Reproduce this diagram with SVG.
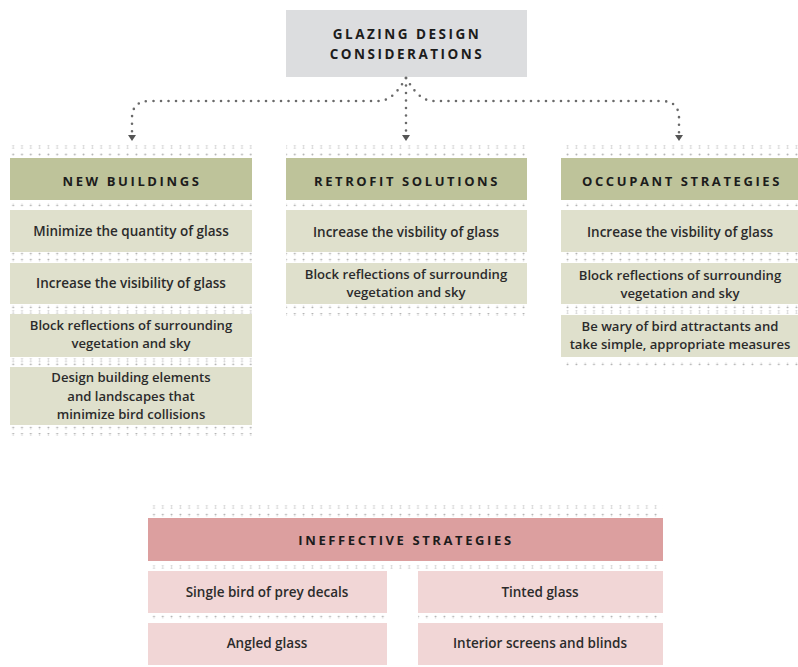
<svg xmlns="http://www.w3.org/2000/svg" width="798" height="667" viewBox="0 0 798 667">
<defs>
<pattern id="dots" patternUnits="userSpaceOnUse" width="8.8" height="3">
<circle cx="4.4" cy="1.5" r="0.95" fill="#b0b0b0"/>
</pattern>
<style>
.t{font-family:"Open Sans","Noto Sans","Liberation Sans",sans-serif;text-anchor:middle;fill:#2b2b2b;}
.h{font-size:13px;font-weight:700;letter-spacing:2.6px;fill:#1c1c1c;}
.h2{font-size:13.5px;letter-spacing:2.5px;}
.i{font-size:13.5px;font-weight:600;}
.m{font-size:13.1px;}
.top{fill:#dcdddf;}
.gh{fill:#bec39a;}
.gi{fill:#dfe0cc;}
.ph{fill:#dc9f9f;}
.pi{fill:#f1d6d6;}
.d{fill:url(#dots);}
.con{fill:none;stroke:#6a6a6a;stroke-width:2.6;stroke-linecap:round;stroke-dasharray:0 7.5;}
.arr{fill:#555;}
</style>
</defs>
<rect width="798" height="667" fill="#ffffff"/>

<g id="root">
<rect class="top" x="286" y="10" width="241" height="67"/>
<text class="t h h2" x="407" y="39">GLAZING DESIGN</text>
<text class="t h h2" x="407" y="59">CONSIDERATIONS</text>
</g>

<g id="connectors">
<path class="con" d="M406,78 C401,86 393,100 380,101 L150,101 Q132,101 132,118 L132,133"/>
<path class="con" d="M406,78 L406,133"/>
<path class="con" d="M406,78 C411,86 419,100 432,101 L661,101 Q679,101 679,118 L679,133"/>
<polygon class="arr" points="128,135 136,135 132,141"/>
<polygon class="arr" points="402,135 410,135 406,141"/>
<polygon class="arr" points="675,135 683,135 679,141"/>
</g>

<g id="new-buildings">
<rect class="d" x="10" y="145.5" width="242" height="3"/>
<rect class="d" x="10" y="153" width="242" height="3"/>
<rect class="gh" x="10" y="158" width="242" height="42"/>
<text class="t h" x="132" y="185.5">NEW BUILDINGS</text>
<rect class="d" x="10" y="203.5" width="242" height="3"/>
<g id="nb1"><rect class="gi" x="10" y="210" width="242" height="42"/>
<text class="t i" x="131" y="236">Minimize the quantity of glass</text></g>
<rect class="d" x="10" y="252.5" width="242" height="3"/>
<rect class="d" x="10" y="258.5" width="242" height="3"/>
<g id="nb2"><rect class="gi" x="10" y="263" width="242" height="41"/>
<text class="t i" x="131" y="288">Increase the visibility of glass</text></g>
<rect class="d" x="10" y="305.5" width="242" height="3"/>
<rect class="d" x="10" y="310.5" width="242" height="3"/>
<g id="nb3"><rect class="gi" x="10" y="314" width="242" height="43"/>
<text class="t i m" x="131" y="330">Block reflections of surrounding</text>
<text class="t i m" x="131" y="348.2">vegetation and sky</text></g>
<rect class="d" x="10" y="358.5" width="242" height="3"/>
<rect class="d" x="10" y="362.5" width="242" height="3"/>
<g id="nb4"><rect class="gi" x="10" y="367" width="242" height="58"/>
<text class="t i m" x="131" y="382.4">Design building elements</text>
<text class="t i m" x="131" y="400.6">and landscapes that</text>
<text class="t i m" x="131" y="418.8">minimize bird collisions</text></g>
<rect class="d" x="10" y="426.5" width="242" height="3"/>
<rect class="d" x="10" y="433" width="242" height="3"/>
</g>

<g id="retrofit">
<rect class="d" x="286" y="145.5" width="241" height="3"/>
<rect class="d" x="286" y="153" width="241" height="3"/>
<rect class="gh" x="286" y="158" width="241" height="42"/>
<text class="t h" x="407" y="185.5">RETROFIT SOLUTIONS</text>
<rect class="d" x="286" y="203.5" width="241" height="3"/>
<g id="rs1"><rect class="gi" x="286" y="210" width="241" height="42"/>
<text class="t i" x="406" y="236.5">Increase the visbility of glass</text></g>
<rect class="d" x="286" y="252.5" width="241" height="3"/>
<rect class="d" x="286" y="258.5" width="241" height="3"/>
<g id="rs2"><rect class="gi" x="286" y="263" width="241" height="41"/>
<text class="t i m" x="406" y="279">Block reflections of surrounding</text>
<text class="t i m" x="406" y="297.2">vegetation and sky</text></g>
<rect class="d" x="286" y="305.5" width="241" height="3"/>
<rect class="d" x="286" y="313" width="241" height="3"/>
</g>

<g id="occupant">
<rect class="d" x="561" y="145.5" width="237" height="3"/>
<rect class="d" x="561" y="153" width="237" height="3"/>
<rect class="gh" x="561" y="158" width="237" height="42"/>
<text class="t h" x="682" y="185.5">OCCUPANT STRATEGIES</text>
<rect class="d" x="561" y="203.5" width="237" height="3"/>
<g id="os1"><rect class="gi" x="561" y="210" width="237" height="42"/>
<text class="t i" x="680" y="236.5">Increase the visbility of glass</text></g>
<rect class="d" x="561" y="252.5" width="237" height="3"/>
<rect class="d" x="561" y="258.5" width="237" height="3"/>
<g id="os2"><rect class="gi" x="561" y="263" width="237" height="41"/>
<text class="t i m" x="680" y="279.5">Block reflections of surrounding</text>
<text class="t i m" x="680" y="297.7">vegetation and sky</text></g>
<rect class="d" x="561" y="305.5" width="237" height="3"/>
<rect class="d" x="561" y="310.5" width="237" height="3"/>
<g id="os3"><rect class="gi" x="561" y="315" width="237" height="42"/>
<text class="t i m" x="680" y="330.6">Be wary of bird attractants and</text>
<text class="t i m" x="680" y="348.8">take simple, appropriate measures</text></g>
<rect class="d" x="561" y="362.5" width="237" height="3"/>
</g>

<g id="ineffective">
<rect class="d" x="148" y="505.5" width="515" height="3"/>
<rect class="d" x="148" y="513.5" width="515" height="3"/>
<rect class="ph" x="148" y="518" width="515" height="43"/>
<text class="t h" x="406" y="545">INEFFECTIVE STRATEGIES</text>
<rect class="d" x="148" y="565.5" width="515" height="3"/>
<g id="ie1"><rect class="pi" x="148" y="571" width="239" height="42"/>
<text class="t i" x="267" y="597">Single bird of prey decals</text></g>
<g id="ie2"><rect class="pi" x="418" y="571" width="245" height="42"/>
<text class="t i" x="540" y="597">Tinted glass</text></g>
<rect class="d" x="148" y="615.5" width="239" height="3"/>
<rect class="d" x="418" y="615.5" width="245" height="3"/>
<g id="ie3"><rect class="pi" x="148" y="623" width="239" height="42"/>
<text class="t i" x="267" y="648">Angled glass</text></g>
<g id="ie4"><rect class="pi" x="418" y="623" width="245" height="42"/>
<text class="t i" x="540" y="648">Interior screens and blinds</text></g>
</g>
</svg>
